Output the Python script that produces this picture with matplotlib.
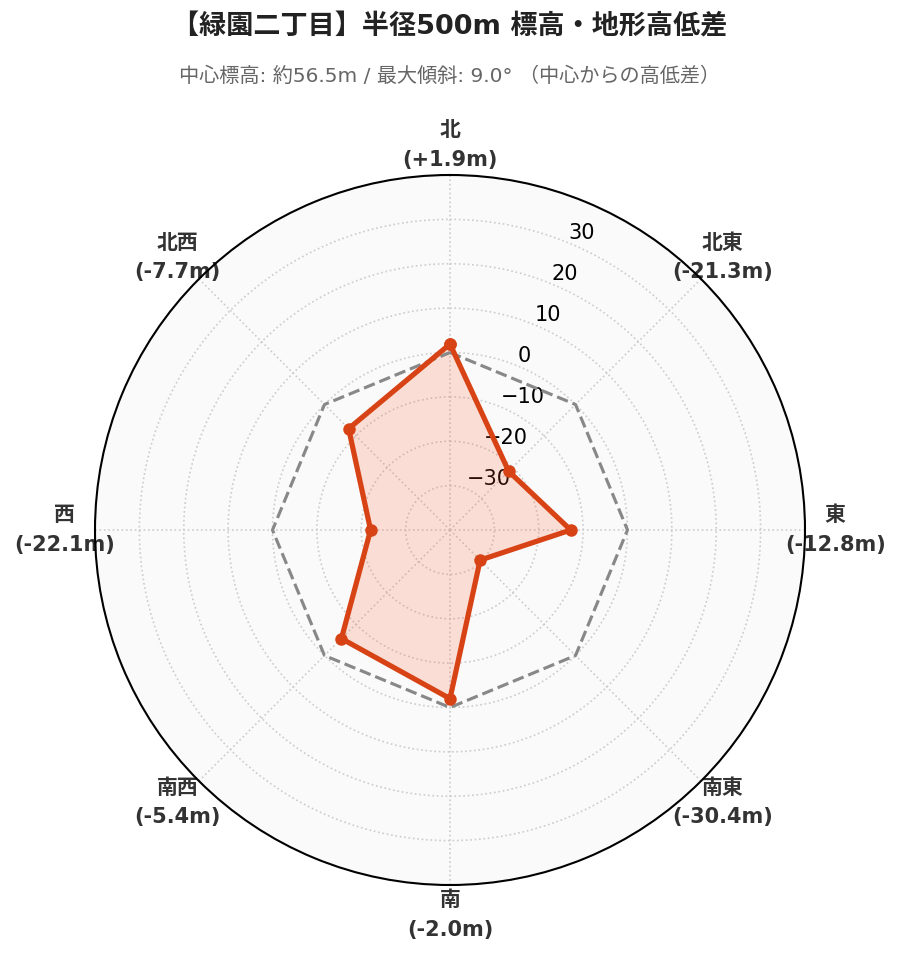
"""Radar chart of elevation differences around a point (8 directions)."""

import matplotlib
matplotlib.use("Agg")
import matplotlib.pyplot as plt
import numpy as np

plt.rcParams["font.family"] = ["DejaVu Sans", "Noto Sans CJK JP"]
plt.rcParams["axes.unicode_minus"] = True

# ─── Data ────────────────────────────────────────────────────────────────────
DIRECTIONS = ["北", "北東", "東", "南東", "南", "南西", "西", "北西"]
ANGLES_DEG = [0, 45, 90, 135, 180, 225, 270, 315]
DIFF_M = [1.9, -21.3, -12.8, -30.4, -2.0, -5.4, -22.1, -7.7]
R_TICKS = [-30, -20, -10, 0, 10, 20, 30]
R_LIM = (-40, 40)

TITLE = "【緑園二丁目】半径500m 標高・地形高低差"
SUBTITLE = "中心標高: 約56.5m / 最大傾斜: 9.0° （中心からの高低差）"

# ─── Styles ──────────────────────────────────────────────────────────────────
LINE_COLOR = "#D84315"
FILL_COLOR = "#FF5722"
TEXT_DARK = "#333333"
GRID_COLOR = "#CCCCCC"

DPI = 150
fig = plt.figure(figsize=(899 / DPI, 962 / DPI), dpi=DPI)
fig.patch.set_facecolor("white")

ax = fig.add_axes([95 / 899, 77 / 962, 710 / 899, 710 / 962], projection="polar")
ax.set_facecolor("#FAFAFA")
ax.set_theta_zero_location("N")
ax.set_theta_direction(-1)

theta = np.deg2rad(ANGLES_DEG)
theta_closed = np.append(theta, theta[0])
vals_closed = np.append(DIFF_M, DIFF_M[0])

# zero reference
ax.plot(theta_closed, np.zeros_like(theta_closed), color="#888888",
        linestyle="--", linewidth=1.5, zorder=3)

ax.fill(theta_closed, vals_closed, color=FILL_COLOR, alpha=0.17, zorder=2)
ax.plot(theta_closed, vals_closed, color=LINE_COLOR, linewidth=2.5,
        marker="o", markersize=5, zorder=4)

ax.set_ylim(*R_LIM)
ax.set_yticks(R_TICKS)
ax.set_rlabel_position(22.5)
ax.tick_params(axis="y", labelsize=10, colors="black")

labels = [f"{d}\n({'+' if v > 0 else ''}{v:.1f}m)" for d, v in zip(DIRECTIONS, DIFF_M)]
ax.set_xticks(theta)
ax.set_xticklabels(labels, fontsize=10, fontweight="bold", color=TEXT_DARK,
                   linespacing=1.6)
ax.tick_params(axis="x", pad=4)

ax.grid(True, color=GRID_COLOR, linestyle=":", linewidth=0.8)
ax.spines["polar"].set_color("black")
ax.spines["polar"].set_linewidth(1.0)

fig.text(0.5, 1 - 27 / 962, TITLE, ha="center", va="center",
         fontsize=13, fontweight="bold", color="#222222")
fig.text(0.5, 1 - 76 / 962, SUBTITLE, ha="center", va="center",
         fontsize=9.7, color="#666666")

fig.savefig("out.png", dpi=DPI, facecolor=fig.get_facecolor())
